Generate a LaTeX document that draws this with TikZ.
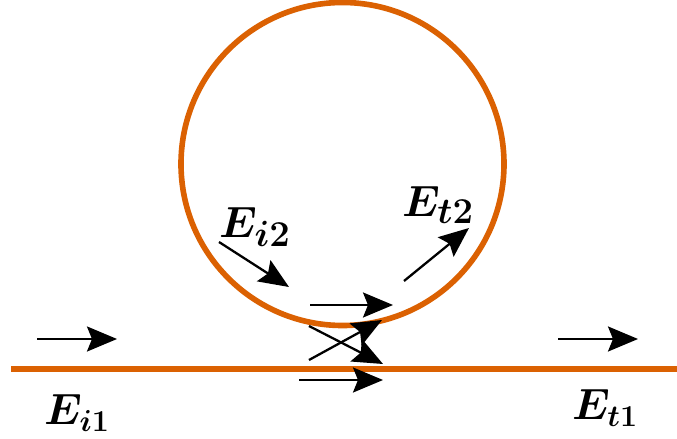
\documentclass[tikz,border=0pt]{standalone}
\usepackage{amsmath,amssymb}
\usetikzlibrary{arrows.meta}
\definecolor{wgorange}{RGB}{219,97,2}

\begin{document}
\begin{tikzpicture}[
        every node/.style={font=\fontsize{26}{30}\selectfont\boldmath},
        ring/.style={
            circle,
            draw=wgorange,
            line width=3.2pt,
            minimum size=6.46cm,
            inner sep=0pt
        },
        bus/.style={draw=wgorange, line width=3.2pt},
        field/.style={
            draw=black,
            line width=1.3pt,
            -{Stealth[length=6mm, width=5mm, inset=1mm]}
        },
        label/.style={inner sep=0pt},
        biglabel/.style={inner sep=0pt, font=\fontsize{29}{33}\selectfont\boldmath}
    ]
    \useasboundingbox (0,0) rectangle (13.54,-8.78);

    % Resonator and bus
    \node[ring] (res) at (6.85,-3.28) {};
    \coordinate (busl) at (0.22,-7.38);
    \coordinate (busr) at (13.54,-7.38);
    \draw[bus] (busl) -- (busr);

    % Input and output arrows
    \coordinate (a1) at (0.74,-6.78);
    \coordinate (a2) at (2.34,-6.78);
    \draw[field] (a1) -- (a2);

    \coordinate (b1) at (11.16,-6.78);
    \coordinate (b2) at (12.76,-6.78);
    \draw[field] (b1) -- (b2);

    % Coupling region
    \coordinate (c1) at (5.98,-7.60);
    \coordinate (c2) at (7.66,-7.60);
    \draw[field] (c1) -- (c2);

    \coordinate (d1) at (6.20,-6.10);
    \coordinate (d2) at (7.86,-6.10);
    \draw[field] (d1) -- (d2);

    \coordinate (e1) at (6.18,-6.52);
    \coordinate (e2) at (7.66,-7.28);
    \draw[field] (e1) -- (e2);

    \coordinate (f1) at (6.18,-7.20);
    \coordinate (f2) at (7.64,-6.40);
    \draw[field] (f1) -- (f2);

    % Inside the ring
    \coordinate (g1) at (4.38,-4.84);
    \coordinate (g2) at (5.78,-5.74);
    \draw[field] (g1) -- (g2);

    \coordinate (h1) at (8.08,-5.62);
    \coordinate (h2) at (9.38,-4.56);
    \draw[field] (h1) -- (h2);

    % Labels
    \node[label] (ei1) at (1.54,-8.26) {$E_{i1}$};
    \node[label] (et1) at (12.10,-8.16) {$E_{t1}$};
    \node[biglabel] (ei2) at (5.10,-4.54) {$E_{i2}$};
    \node[biglabel] (et2) at (8.76,-4.10) {$E_{t2}$};

\end{tikzpicture}
\end{document}
